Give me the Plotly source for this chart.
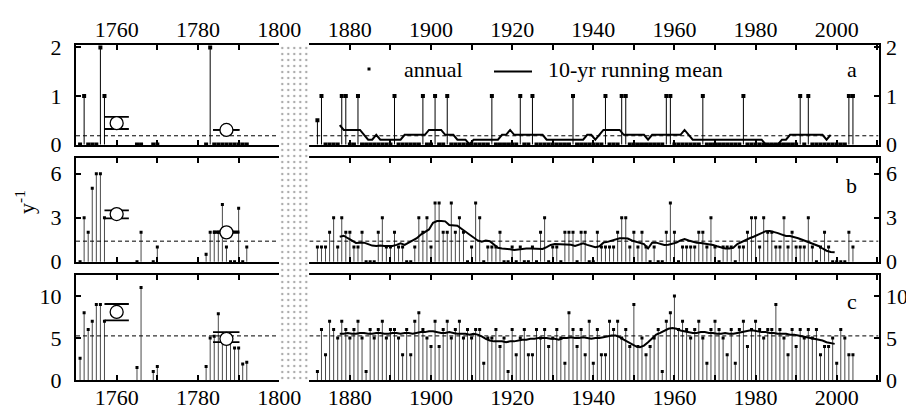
import plotly.graph_objects as go

# ---------------- data ----------------
left_years = [1751, 1752, 1753, 1754, 1755, 1756, 1757, 1765, 1766, 1769, 1770,
              1782, 1783, 1784, 1785, 1786, 1787, 1788, 1789, 1790, 1791, 1792]
a_left = [0, 1, 0, 0, 0, 2, 1, 0, 0, 0, 0, 0, 2, 0, 0, 0, 0, 0, 0, 0, 0, 0]
b_left = [0, 3, 2, 5, 6, 6, 3, 0, 2, 0, 1, 0.5, 2, 2, 2, 3.9, 1, 0, 0, 3.65, 0, 1]
c_left = [2.6, 8, 6, 7, 9, 9, 7, 1.5, 11, 1.0, 1.6, 1.6, 5.0, 5.2, 7.9, 5.2, 4.8, 4.6, 3.8, 3.8, 1.9, 2.1]

right_years = list(range(1872, 2005))
a_right = [0.5, 1, 0, 0, 0, 0, 1, 1,
           0, 0, 1, 0, 0, 0, 0, 0, 0, 0,
           0, 1, 0, 0, 0, 0, 0, 0, 1, 0,
           0, 1, 0, 0, 1, 0, 0, 0, 0, 0,
           0, 0, 0, 0, 0, 1, 0, 0, 0, 0,
           0, 0, 1, 0, 0, 1, 0, 0, 0, 0,
           0, 0, 0, 0, 0, 1, 0, 0, 0, 0,
           0, 0, 0, 1, 0, 0, 0, 1, 1, 0,
           0, 0, 0, 0, 0, 0, 0, 0, 1, 1,
           0, 0, 0, 0, 0, 0, 0, 1, 0, 0,
           0, 0, 0, 0, 0, 0, 0, 1, 0, 0,
           0, 0, 0, 0, 0, 0, 0, 0, 0, 0,
           0, 1, 0, 1, 0, 0, 0, 0, 0, 0,
           0, 0, 0, 1, 1]
b_right = [1, 1, 1, 2, 3, 1, 3, 2,
           2, 1, 1, 2, 0, 0, 0, 2, 3, 1,
           1, 2, 1, 1, 0, 0, 1, 3, 2, 3,
           1, 4, 4, 2, 2, 4, 2, 3, 2, 0,
           1, 4, 3, 0, 1, 1, 1, 2, 0, 0,
           1, 0, 1, 0, 0, 1, 0, 2, 3, 0,
           1, 1, 0, 2, 2, 2, 0, 2, 2, 0,
           0, 2, 1, 1, 1, 1, 2, 3, 3, 1,
           2, 1, 2, 1, 0, 1, 0, 0, 2, 4,
           2, 0, 1, 1, 1, 1, 2, 2, 1, 3,
           1, 0, 1, 1, 1, 0, 1, 1, 2, 3,
           3, 1, 3, 2, 2, 1, 1, 3, 1, 2,
           1, 1, 1, 3, 1, 0, 1, 2, 1, 0,
           0, 0, 0, 2, 1]
c_right = [1, 6, 3, 7, 6, 5, 7, 6,
           5, 6, 7, 5, 1, 6, 5, 6, 7, 5,
           6, 6, 5, 3, 6, 3, 7, 8, 6, 5,
           4, 7, 4, 6, 7, 5, 6, 7, 5, 6,
           5, 6, 6, 2, 5, 5, 6, 4, 5, 1,
           6, 3, 5, 6, 3, 3, 6, 5, 6, 4,
           5, 6, 5, 2, 8, 6, 4, 6, 3, 7,
           2, 6, 3, 3, 7, 6, 7, 5, 6, 4,
           9, 4, 5, 3, 4, 5, 6, 1, 7, 8,
           10, 6, 7, 6, 5, 6, 7, 5, 2, 6,
           7, 6, 5, 3, 6, 2, 6, 7, 4, 6,
           7, 6, 5, 6, 6, 9, 6, 5, 3, 6,
           4, 6, 5, 6, 5, 6, 3, 4, 4, 5,
           2, 6, 5, 3, 3]

# 10-yr running means, first point at 1877.5, yearly steps
rm_a = [0.4, 0.3, 0.3, 0.3, 0.3, 0.3, 0.2, 0.1, 0.1, 0.2,
        0.1, 0.1, 0.1, 0.1, 0.1, 0.1, 0.2, 0.2, 0.2, 0.2,
        0.2, 0.2, 0.3, 0.3, 0.3, 0.3, 0.2, 0.2, 0.2, 0.1,
        0.1, 0.1, 0.0, 0.1, 0.1, 0.1, 0.1, 0.1, 0.1, 0.1,
        0.2, 0.2, 0.3, 0.2, 0.2, 0.2, 0.2, 0.2, 0.2, 0.2,
        0.2, 0.1, 0.1, 0.1, 0.1, 0.1, 0.1, 0.1, 0.1, 0.1,
        0.1, 0.2, 0.2, 0.1, 0.2, 0.3, 0.3, 0.3, 0.3, 0.3,
        0.2, 0.2, 0.2, 0.2, 0.2, 0.2, 0.1, 0.2, 0.2, 0.2,
        0.2, 0.2, 0.2, 0.2, 0.2, 0.3, 0.2, 0.1, 0.1, 0.1,
        0.1, 0.1, 0.1, 0.1, 0.1, 0.1, 0.1, 0.1, 0.1, 0.1,
        0.1, 0.1, 0.1, 0.1, 0.1, 0.0, 0.0, 0.0, 0.0, 0.1,
        0.1, 0.2, 0.2, 0.2, 0.2, 0.2, 0.2, 0.2, 0.2, 0.2,
        0.1, 0.2]
rm_b = [1.7, 1.77, 1.6, 1.45, 1.28, 1.3, 1.3, 1.2, 1.1, 1.07,
        1.1, 1.07, 1.05, 1.07, 1.15, 1.25, 1.15, 1.3, 1.45, 1.6,
        1.85, 2.05, 2.2, 2.65, 2.77, 2.77, 2.75, 2.5, 2.5, 2.45,
        2.25, 2.05, 1.85, 1.6, 1.45, 1.36, 1.45, 1.4, 1.15, 0.95,
        0.9, 0.9, 0.85, 0.8, 0.85, 0.9, 0.9, 0.9, 0.9, 0.88,
        0.87, 1.0, 1.14, 1.2, 1.2, 1.2, 1.2, 1.15, 1.07, 1.15,
        1.25, 1.15, 1.05, 0.98, 1.05, 1.3, 1.35, 1.45, 1.55, 1.6,
        1.6, 1.58, 1.45, 1.36, 1.3, 1.2, 0.9, 1.3, 1.3, 1.2,
        1.14, 1.15, 1.2, 1.3, 1.45, 1.55, 1.45, 1.35, 1.3, 1.28,
        1.25, 1.2, 1.14, 1.05, 0.95, 0.9, 0.9, 0.95, 1.2, 1.35,
        1.5, 1.6, 1.7, 1.82, 1.95, 2.08, 2.1, 2.05, 1.95, 1.85,
        1.75, 1.75, 1.7, 1.6, 1.5, 1.4, 1.32, 1.2, 1.07, 0.9,
        0.75, 0.66, 0.64]
rm_c = [5.5, 5.5, 5.6, 5.5, 5.5, 5.6, 5.6, 5.5, 5.5, 5.6,
        5.6, 5.5, 5.5, 5.6, 5.6, 5.5, 5.6, 5.6, 5.5, 5.6,
        5.7, 5.7, 5.8, 5.8, 5.7, 5.6, 5.6, 5.7, 5.6, 5.5,
        5.5, 5.5, 5.4, 5.5, 5.4, 5.2, 4.9, 4.7, 4.6, 4.6,
        4.6, 4.5, 4.6, 4.6, 4.7, 4.8, 4.8, 4.9, 4.9, 5.0,
        5.0, 5.0, 4.9, 4.9, 4.8, 5.0, 5.0, 5.1, 5.0, 5.0,
        5.1, 5.0, 4.9, 5.0, 5.0, 5.1, 5.2, 5.3, 5.3, 5.1,
        4.8, 4.5, 4.2, 4.0, 3.9, 4.1, 4.5, 5.0, 5.4, 5.6,
        5.9, 6.1, 6.2, 6.1, 5.9, 5.8, 5.7, 5.6, 5.6, 5.7,
        5.7, 5.6, 5.6, 5.5, 5.5, 5.6, 5.5, 5.5, 5.6, 5.7,
        5.8, 5.9, 5.9, 5.8, 5.7, 5.7, 5.6, 5.6, 5.5, 5.5,
        5.5, 5.4, 5.4, 5.3, 5.2, 5.1, 5.0, 4.9, 4.8, 4.7,
        4.5, 4.4, 4.3]
rm_start = 1877.5

# early-period means with ranges
period_center = [1760, 1787]
period_start = [1757, 1783.7]
period_end = [1763, 1790.2]
a_mean, a_hi, a_lo = [0.44, 0.30], [0.57, 0.30], [0.32, 0.30]
b_mean, b_hi, b_lo = [3.25, 2.0], [3.5, 2.06], [2.95, 1.96]
c_mean, c_hi, c_lo = [8.1, 4.9], [9.05, 5.7], [7.1, 4.5]

ref_level = [0.18, 1.4, 5.25]
panel_labels = ["a", "b", "c"]
y_ticks = [[0, 1, 2], [0, 3, 6], [0, 5, 10]]
y_ranges = [[-0.01, 2.05], [-0.02, 7.07], [0, 12.5]]
x_left_range = [1750, 1800]
x_right_range = [1870, 2010.3]
left_major = [1760, 1780, 1800]
left_minor = [1750, 1770, 1790]
right_major = [1880, 1900, 1920, 1940, 1960, 1980, 2000]
right_minor = [1870, 1890, 1910, 1930, 1950, 1970, 1990, 2010]

# ---------------- layout helpers ----------------
OFF = 8  # page body margin of the html page
W, H = 914 - OFF, 410 - OFF
FONT = "'Liberation Serif', 'Times New Roman', Times, serif"
FS = 22


def fx(p):
    return (p - OFF) / W


def fy(p):
    return 1 - (p - OFF) / H


XL = [fx(76), fx(279.3)]
XR = [fx(309.3), fx(878.5)]
Y_DOM = [[fy(145), fy(45)], [fy(262), fy(158)], [fy(380), fy(275)]]

fig = go.Figure()


def stems(xs, ys):
    X, Y = [], []
    for x, y in zip(xs, ys):
        X += [x, x, None]
        Y += [0, y, None]
    return X, Y


def brackets(x0s, x1s, his, los):
    X, Y = [], []
    for x0, x1, h, l in zip(x0s, x1s, his, los):
        X += [x0, x1, None, x0, x1, None]
        Y += [h, h, None, l, l, None]
    return X, Y


data = [
    (a_left, a_right, rm_a, a_mean, a_hi, a_lo),
    (b_left, b_right, rm_b, b_mean, b_hi, b_lo),
    (c_left, c_right, rm_c, c_mean, c_hi, c_lo),
]

layout_axes = {}
for p, (vl, vr, rm, mn, hi, lo) in enumerate(data):
    il, ir = 2 * p + 1, 2 * p + 2
    xl = "x" if il == 1 else f"x{il}"
    yl = "y" if il == 1 else f"y{il}"
    xr, yr = f"x{ir}", f"y{ir}"
    stem_col = "#000000" if p == 0 else "#4a4a4a"
    msize = 4 if p == 0 else 3
    # left segment
    sx, sy = stems(left_years, vl)
    fig.add_trace(go.Scatter(x=sx, y=sy, mode="lines", line=dict(color=stem_col, width=1),
                             xaxis=xl, yaxis=yl, hoverinfo="skip", showlegend=False))
    fig.add_trace(go.Scatter(x=left_years, y=vl, mode="markers",
                             marker=dict(symbol="square", size=msize, color="black"),
                             xaxis=xl, yaxis=yl, showlegend=False))
    fig.add_trace(go.Scatter(x=x_left_range, y=[ref_level[p]] * 2, mode="lines",
                             line=dict(color="black", width=1, dash="4px,3px"),
                             xaxis=xl, yaxis=yl, showlegend=False))
    bx, by = brackets(period_start, period_end, hi, lo)
    fig.add_trace(go.Scatter(x=bx, y=by, mode="lines", line=dict(color="black", width=1.8),
                             xaxis=xl, yaxis=yl, showlegend=False))
    fig.add_trace(go.Scatter(x=period_center, y=mn, mode="markers",
                             marker=dict(symbol="circle", size=13, color="white",
                                         line=dict(color="black", width=1.3)),
                             xaxis=xl, yaxis=yl, showlegend=False))
    # right segment
    sx, sy = stems(right_years, vr)
    fig.add_trace(go.Scatter(x=sx, y=sy, mode="lines", line=dict(color=stem_col, width=1),
                             xaxis=xr, yaxis=yr, hoverinfo="skip", showlegend=False))
    fig.add_trace(go.Scatter(x=right_years, y=vr, mode="markers",
                             marker=dict(symbol="square", size=msize, color="black"),
                             xaxis=xr, yaxis=yr, showlegend=False))
    fig.add_trace(go.Scatter(x=x_right_range, y=[ref_level[p]] * 2, mode="lines",
                             line=dict(color="black", width=1, dash="4px,3px"),
                             xaxis=xr, yaxis=yr, showlegend=False))
    rm_years = [rm_start + i for i in range(len(rm))]
    fig.add_trace(go.Scatter(x=rm_years, y=rm, mode="lines", line=dict(color="black", width=2),
                             xaxis=xr, yaxis=yr, showlegend=False))

    show_x = p in (0, 2)
    side = "top" if p == 0 else "bottom"
    standoff = -3 if p == 0 else -3
    minor_style = dict(ticks="inside", ticklen=5, tickwidth=1.5, tickcolor="black", showgrid=False)
    common_x = dict(showline=True, linewidth=2, linecolor="black", mirror="allticks",
                    ticks="inside", ticklen=5, tickwidth=1.5, tickcolor="black",
                    showgrid=False, zeroline=False, showticklabels=show_x, side=side,
                    automargin=False, ticklabelstandoff=standoff,
                    tickfont=dict(family=FONT, size=FS, color="black"), tickangle=0)
    layout_axes["xaxis" if il == 1 else f"xaxis{il}"] = dict(
        common_x, domain=XL, range=x_left_range, anchor=yl,
        tickmode="array", tickvals=left_major, ticktext=[str(v) for v in left_major],
        minor=dict(minor_style, tickmode="array", tickvals=left_minor))
    layout_axes[f"xaxis{ir}"] = dict(
        common_x, domain=XR, range=x_right_range, anchor=yr,
        tickmode="array", tickvals=right_major, ticktext=[str(v) for v in right_major],
        minor=dict(minor_style, tickmode="array", tickvals=right_minor))
    common_y = dict(showline=True, linewidth=2, linecolor="black", ticks="inside", ticklen=5,
                    tickwidth=1.5, tickcolor="black", showgrid=False, zeroline=False,
                    automargin=False,
                    domain=Y_DOM[p], range=y_ranges[p], tickmode="array", tickvals=y_ticks[p],
                    tickfont=dict(family=FONT, size=FS, color="black"))
    layout_axes["yaxis" if il == 1 else f"yaxis{il}"] = dict(common_y, anchor=xl, side="left",
                                                             ticklabelstandoff=8)
    layout_axes[f"yaxis{ir}"] = dict(common_y, anchor=xr, side="right", ticklabelstandoff=1)

# axis break band
fig.add_trace(go.Scatter(x=[0, 1, 1, 0, 0], y=[0, 0, 1, 1, 0], mode="lines", fill="toself",
                         line=dict(width=0, color="rgba(0,0,0,0)"), fillcolor="white",
                         fillpattern=dict(shape=".", fgcolor="#555555", bgcolor="white",
                                          size=6, solidity=0.12),
                         xaxis="x7", yaxis="y7", hoverinfo="skip", showlegend=False))
layout_axes["xaxis7"] = dict(domain=[fx(279.3), fx(309.3)], range=[0, 1], visible=False,
                             anchor="y7", automargin=False)
layout_axes["yaxis7"] = dict(domain=[fy(380), fy(45)], range=[0, 1], visible=False,
                             anchor="x7", automargin=False)

ann = []
txt = dict(family=FONT, size=FS, color="black")
ann.append(dict(x=fx(401.5), y=fy(70), xref="paper", yref="paper", text="annual", showarrow=False,
                xanchor="left", yanchor="middle", font=txt))
ann.append(dict(x=fx(546), y=fy(70), xref="paper", yref="paper", text="10-yr running mean",
                showarrow=False, xanchor="left", yanchor="middle", font=txt))
for lbl, yc in zip(panel_labels, [70, 185, 301]):
    ann.append(dict(x=fx(851.7), y=fy(yc), xref="paper", yref="paper", text=lbl, showarrow=False,
                    xanchor="center", yanchor="middle", font=txt))
ann.append(dict(x=fx(25), y=fy(202), xref="paper", yref="paper", text="y<sup>-1</sup>",
                showarrow=False, textangle=-90, xanchor="center", yanchor="middle", font=txt))

shapes = [
    dict(type="rect", xref="paper", yref="paper", x0=fx(367.5), x1=fx(370.5), y0=fy(70.5), y1=fy(67.5),
         fillcolor="black", line=dict(width=0)),
    dict(type="line", xref="paper", yref="paper", x0=fx(494), x1=fx(532), y0=fy(71.5), y1=fy(71.5),
         line=dict(color="black", width=2)),
]

fig.update_layout(width=W, height=H, margin=dict(l=0, r=0, t=0, b=0, pad=0), autosize=False,
                  paper_bgcolor="white", plot_bgcolor="white", showlegend=False,
                  annotations=ann, shapes=shapes, font=txt, **layout_axes)

fig.write_html("out.html")
